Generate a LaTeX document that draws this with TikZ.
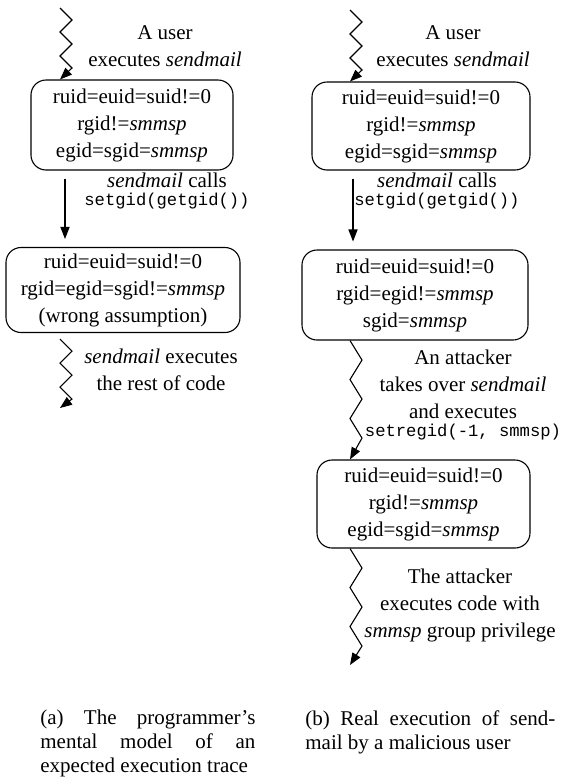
\documentclass[tikz,border=0pt]{standalone}
\usepackage{fontspec}
\setmainfont{Liberation Serif}
\setmonofont{Liberation Mono}
\usetikzlibrary{arrows.meta,positioning,calc}
\newcommand{\cmd}[1]{{\fontsize{8.6}{10}\selectfont\ttfamily #1}}

\begin{document}
\begin{tikzpicture}[x=0.5pt,y=-0.5pt] % one unit is one pixel, y grows downwards
\tikzset{every node/.style={font=\fontsize{10.5}{13.5}\selectfont}} % Times-like text everywhere
\tikzset{state/.style={draw,rounded corners=7.5pt,align=center,inner sep=0pt,line width=0.55pt}}
\tikzset{flow/.style={line width=0.55pt,-{Triangle[length=6pt,width=4.6pt]}}}
\tikzset{note/.style={align=center,inner sep=0pt}}
\useasboundingbox (0,0) rectangle (568,782);
% (a) what the programmer expects
\coordinate (la) at (60,8);
\coordinate (lx) at (65,0);
\coordinate (le) at (60,408);
\node[state,minimum width=101pt,minimum height=45pt] (l1) at (132,125) {ruid=euid=suid!=0\\ rgid!=\textit{smmsp}\\ egid=sgid=\textit{smmsp}};
\node[state,minimum width=117pt,minimum height=42.5pt] (l2) at (123,290) {ruid=euid=suid!=0\\ rgid=egid=sgid!=\textit{smmsp}\\ (wrong assumption)};
\node[note] (lt1) at (165,46) {A user\\ executes \textit{sendmail}};
\node[note] (lt2) at (167,191) {\textit{sendmail} calls\\[-4.5pt] \cmd{setgid(getgid())}};
\node[note] (lt3) at (161,370) {\textit{sendmail} executes\\ the rest of code};
\draw[flow] (la) -- ++(12,12) -- ++(-12,12) -- ++(12,12) -- ++(-12,12) -- ++(12,12) -- (l1.north -| la);
\draw[flow,shorten <=4pt,shorten >=4pt] (l1.south -| lx) -- (l2.north -| lx);
\draw[flow] ($(l2.south -| la)+(0,6)$) -- ++(12,12) -- ++(-12,12) -- ++(12,12) -- ++(-12,12) -- ++(12,12) -- (le);
% (b) what really happens
\coordinate (ra) at (350,10);
\coordinate (rx) at (353,0);
\coordinate (re) at (350,665);
\node[state,minimum width=109pt,minimum height=44pt] (r1) at (421,126) {ruid=euid=suid!=0\\ rgid!=\textit{smmsp}\\ egid=sgid=\textit{smmsp}};
\node[state,minimum width=113pt,minimum height=45pt] (r2) at (415,295) {ruid=euid=suid!=0\\ rgid=egid!=\textit{smmsp}\\ sgid=\textit{smmsp}};
\node[state,minimum width=106.5pt,minimum height=44pt] (r3) at (423.5,504) {ruid=euid=suid!=0\\ rgid!=\textit{smmsp}\\ egid=sgid=\textit{smmsp}};
\node[note] (rt1) at (453,46) {A user\\ executes \textit{sendmail}};
\node[note] (rt2) at (437,191) {\textit{sendmail} calls\\[-4.5pt] \cmd{setgid(getgid())}};
\node[note] (rt3) at (463,395) {An attacker\\ takes over \textit{sendmail}\\ and executes\\[-4.5pt] \cmd{setregid(-1, smmsp)}};
\node[note] (rt4) at (460,605) {The attacker\\ executes code with\\ \textit{smmsp} group privilege};
\draw[flow] (ra) -- ++(12,12) -- ++(-12,12) -- ++(12,12) -- ++(-12,12) -- ++(12,12) -- (r1.north -| ra);
\draw[flow,shorten <=4pt,shorten >=4pt] (r1.south -| rx) -- (r2.north -| rx);
\draw[flow] (r2.south -| ra) -- ++(12,19.5) -- ++(-12,19.5) -- ++(12,19.5) -- ++(-12,19.5) -- ++(12,19.5) -- (r3.north -| ra);
\draw[flow] (r3.south -| ra) -- ++(12,19.5) -- ++(-12,19.5) -- ++(12,19.5) -- ++(-12,19.5) -- ++(12,19.5) -- (re);
% captions
\node[note,anchor=north west,align=justify,text width=107.5pt,font=\fontsize{10.5}{12}\selectfont] (capa) at (40,710) {\tolerance=10000 \hyphenpenalty=10000 (a) The programmer's mental model of an\linebreak expected execution trace};
\node[note,anchor=north west,align=justify,text width=125pt,font=\fontsize{10.5}{12}\selectfont] (capb) at (305,710) {\tolerance=10000 \hyphenpenalty=10000 (b) Real execution of send-\linebreak mail by a malicious user};
\end{tikzpicture}
\end{document}
